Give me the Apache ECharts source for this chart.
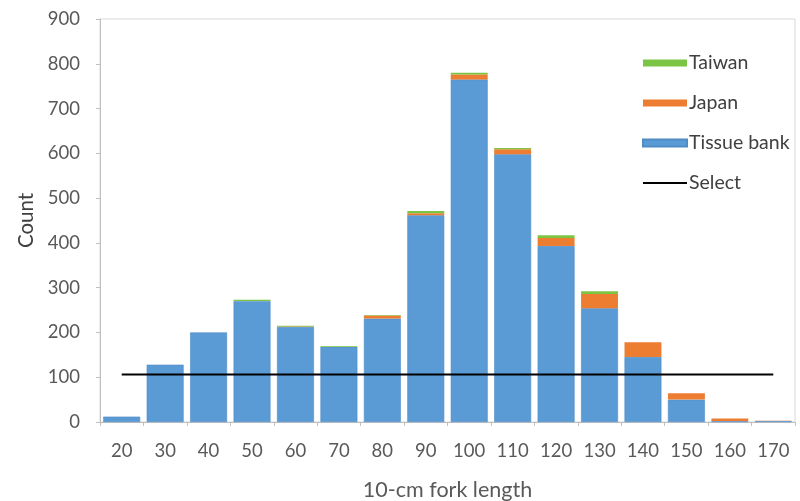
<!DOCTYPE html>
<html><head><meta charset="utf-8">
<script src="https://cdn.jsdelivr.net/npm/echarts@6/dist/echarts.min.js"></script>
<style>html,body{margin:0;padding:0;background:#fff}#c{width:800px;height:501px}</style>
</head><body><div id="c"></div>
<script>
var categories = ['20','30','40','50','60','70','80','90','100','110','120','130','140','150','160','170'];
var tissueBank = [12,128,200,270,212,168,231,462,765,598,393,254,145,50,2,2];
var japan      = [0,0,0,0,1,0,7,4,11,11,18,32,33,14,6,1];
var taiwan     = [0,0,0,3,2,2,1,5,4,3,6,6,0,0,0,0];
var select     = [106,106,106,106,106,106,106,106,106,106,106,106,106,106,106,106];
var yTicks = [0,100,200,300,400,500,600,700,800,900];

var FONT = 'Lato';
var chart = echarts.init(document.getElementById('c'), null, {renderer:'canvas'});
var barCommon = {type:'bar', stack:'total', barCategoryGap:'15%'};
chart.setOption({
  animation:false,
  textStyle:{fontFamily:FONT},
  grid:{left:100, right:5, top:19, bottom:79, show:true, borderColor:'#d9d9d9', borderWidth:1,
        containLabel:false, outerBoundsMode:'none'},
  legend:{
    orient:'vertical', left:637, top:48, itemGap:20, itemWidth:44, itemHeight:7,
    textStyle:{fontFamily:FONT, fontSize:19.5, color:'#404040', padding:[0,0,0,-3]},
    data:[
      {name:'Taiwan', icon:'rect'},
      {name:'Japan', icon:'rect'},
      {name:'Tissue bank', icon:'rect'},
      {name:'Select', itemStyle:{opacity:0}}
    ]
  },
  xAxis:{
    type:'category', data:categories,
    name:'10-cm fork length', nameLocation:'middle', nameGap:57,
    nameTextStyle:{fontFamily:FONT, fontSize:21.5, color:'#595959'},
    axisLine:{lineStyle:{color:'#bfbfbf'}},
    axisTick:{show:true, alignWithLabel:false, length:4, lineStyle:{color:'#bfbfbf'}},
    axisLabel:{fontFamily:FONT, fontSize:18.5, color:'#595959', margin:20}
  },
  yAxis:{
    type:'value', min:0, max:900, interval:100,
    name:'Count', nameLocation:'middle', nameGap:60, nameRotate:90,
    nameTextStyle:{fontFamily:FONT, fontSize:20.5, color:'#404040'},
    axisLine:{show:true, lineStyle:{color:'#bfbfbf'}},
    axisTick:{show:true, length:4, lineStyle:{color:'#bfbfbf'}},
    splitLine:{show:false},
    axisLabel:{fontFamily:FONT, fontSize:18.5, color:'#595959', margin:20,
      formatter:function(v){return yTicks.indexOf(v)>=0 ? String(v) : '';}}
  },
  series:[
    Object.assign({name:'Tissue bank', data:tissueBank, itemStyle:{color:'#5B9BD5', borderColor:'#4f8cc6', borderWidth:0.6}}, barCommon),
    Object.assign({name:'Japan', data:japan, itemStyle:{color:'#ED7D31'}}, barCommon),
    Object.assign({name:'Taiwan', data:taiwan, itemStyle:{color:'#7CC443'}}, barCommon),
    {name:'Select', type:'line', data:select, symbol:'none', showSymbol:false,
     lineStyle:{color:'#000', width:2}, itemStyle:{color:'#000'}, z:5}
  ]
});
</script></body></html>
